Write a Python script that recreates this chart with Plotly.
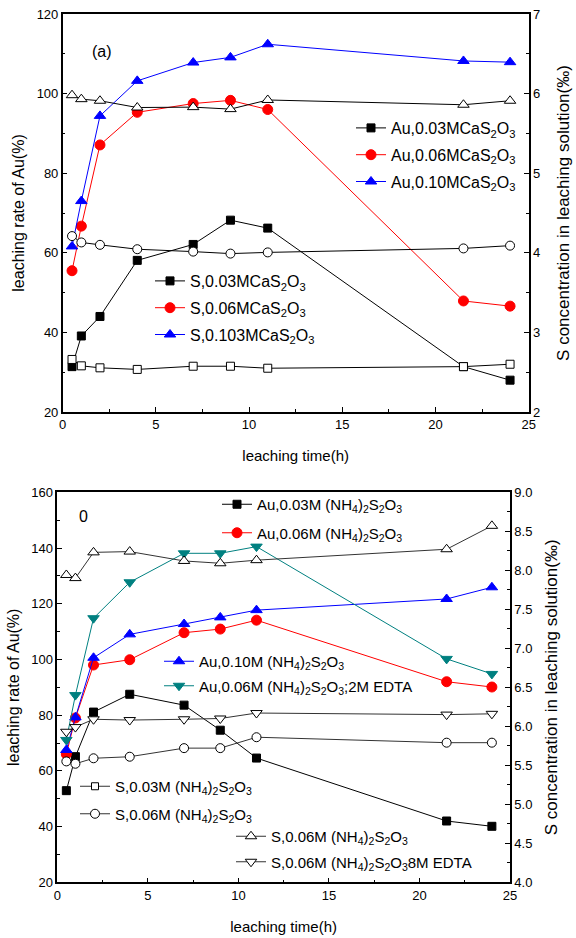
import plotly.graph_objects as go

# ---------------- data ----------------
time_h = [0.5, 1, 2, 4, 7, 9, 11, 21.5, 24]

# (a) calcium thiosulfate leaching: Au leaching rate (%)
au_ca_003 = [31.4, 39.1, 44.0, 58.1, 62.1, 68.2, 66.2, 31.4, 28.0]
au_ca_006 = [55.5, 66.7, 87.1, 95.3, 97.5, 98.3, 96.0, 47.9, 46.6]
au_ca_010 = [61.6, 73.0, 94.4, 103.2, 107.8, 109.1, 112.4, 108.2, 107.9]
# (a) S concentration in leaching solution (per mille)
s_ca_003 = [2.66, 2.58, 2.555, 2.535, 2.575, 2.575, 2.55, 2.57, 2.60]
s_ca_006 = [4.21, 4.13, 4.10, 4.045, 4.015, 3.99, 4.005, 4.055, 4.09]
s_ca_0103 = [5.98, 5.93, 5.91, 5.825, 5.83, 5.805, 5.92, 5.86, 5.91]

# (b) ammonium thiosulfate leaching: Au leaching rate (%)
au_nh_003 = [52.9, 65.1, 81.1, 87.5, 83.6, 74.6, 64.6, 42.0, 40.1]
au_nh_006 = [66.0, 79.0, 98.0, 99.9, 109.6, 110.9, 114.1, 92.0, 90.1]
au_nh_010 = [67.5, 79.2, 100.6, 109.0, 112.7, 115.1, 117.7, 121.7, 125.9]
au_nh_006_edta = [71.1, 87.2, 114.8, 127.7, 138.1, 138.1, 140.5, 100.2, 94.8]
# (b) S concentration in leaching solution (per mille)
s_nh_003 = []
s_nh_006 = [5.55, 5.52, 5.59, 5.61, 5.72, 5.72, 5.86, 5.79, 5.79]
s_nh_006_b = [7.94, 7.90, 8.23, 8.24, 8.12, 8.09, 8.13, 8.27, 8.57]
s_nh_006_edta = [5.93, 5.99, 6.09, 6.08, 6.09, 6.10, 6.17, 6.15, 6.16]

SUB = "S<sub>2</sub>O<sub>3</sub>"
NH = "(NH<sub>4</sub>)<sub>2</sub>" + SUB

BLACK, RED, BLUE, TEAL = "#000000", "#FF0000", "#0000FF", "#008080"
FONT = "Liberation Sans, Arial, sans-serif"

fig = go.Figure()
_count = [0]


def add(x, y, name, color, symbol, size, xa, ya, legend, hollow=False,
        showlegend=True, lcolor=None):
    _count[0] += 1
    fig.add_trace(go.Scatter(
        x=x, y=y, name=name, mode="lines+markers",
        xaxis=xa, yaxis=ya, legend=legend, showlegend=showlegend,
        legendgroup="g%d" % _count[0],
        line=dict(color=lcolor or color, width=1),
        marker=dict(symbol=symbol, size=size,
                    color="white" if hollow else color,
                    line=dict(color=color, width=1))))


# ---- panel (a) ----
add(time_h, au_ca_003, "Au,0.03MCa" + SUB, BLACK, "square", 8, "x", "y", "legend")
add(time_h, au_ca_006, "Au,0.06MCa" + SUB, RED, "circle", 10, "x", "y", "legend")
add(time_h, au_ca_010, "Au,0.10MCa" + SUB, BLUE, "triangle-up", 10, "x", "y", "legend")

add(time_h, s_ca_003, "", BLACK, "square", 8, "x", "y2", "legend2",
    hollow=True, showlegend=False)
add(time_h, s_ca_006, "", BLACK, "circle", 9, "x", "y2", "legend2",
    hollow=True, showlegend=False)
add(time_h, s_ca_0103, "", BLACK, "triangle-up", 10, "x", "y2", "legend2",
    hollow=True, showlegend=False)
# key entries for the S series of panel (a)
add([None], [None], "S,0.03MCa" + SUB, BLACK, "square", 8, "x", "y2", "legend2")
add([None], [None], "S,0.06MCa" + SUB, RED, "circle", 10, "x", "y2", "legend2")
add([None], [None], "S,0.103MCa" + SUB, BLUE, "triangle-up", 10, "x", "y2", "legend2")

# ---- panel (b) ----
add(time_h, au_nh_003, "Au,0.03M " + NH, BLACK, "square", 8, "x2", "y3", "legend3")
add(time_h, au_nh_006, "Au,0.06M " + NH, RED, "circle", 10, "x2", "y3", "legend3")
add(time_h, au_nh_010, "Au,0.10M " + NH, BLUE, "triangle-up", 10, "x2", "y3", "legend4")
add(time_h, au_nh_006_edta, "Au,0.06M " + NH + ";2M EDTA", TEAL, "triangle-down",
    10, "x2", "y3", "legend4")
add(time_h[:len(s_nh_003)] or [None], s_nh_003 or [None], "S,0.03M " + NH, BLACK,
    "square", 7, "x2", "y4", "legend5", hollow=True, lcolor="#333333")
add(time_h, s_nh_006, "S,0.06M " + NH, BLACK, "circle", 9, "x2", "y4", "legend5",
    hollow=True, lcolor="#333333")
add(time_h, s_nh_006_b, "S,0.06M " + NH, BLACK, "triangle-up", 10, "x2", "y4",
    "legend6", hollow=True, lcolor="#333333")
add(time_h, s_nh_006_edta, "S,0.06M " + NH + "8M EDTA", BLACK, "triangle-down", 10,
    "x2", "y4", "legend6", hollow=True, lcolor="#333333")

W, H = 576, 938


def px_x(v):
    return v / W


def px_y(v):
    return 1 - v / H


tick_font = dict(family=FONT, size=13, color="black")
title_font = dict(family=FONT, size=16, color="black")
right_title_font = dict(family=FONT, size=17, color="black")
xtitle_font = dict(family=FONT, size=15, color="black")
axis_common = dict(showline=True, linecolor="black", linewidth=1.5,
                   ticks="inside", tickwidth=1, tickcolor="black",
                   showgrid=False, zeroline=False, tickfont=tick_font,
                   automargin=False)

top_dom_x = [px_x(62.7), px_x(528.7)]
top_dom_y = [px_y(412), px_y(14)]
bot_dom_x = [px_x(57.3), px_x(510)]
bot_dom_y = [px_y(882.3), px_y(492.3)]

fig.update_layout(
    width=W, height=H, margin=dict(l=0, r=0, t=0, b=0, autoexpand=False),
    paper_bgcolor="white", plot_bgcolor="white",
    font=dict(family=FONT, color="black"),
    xaxis=dict(domain=top_dom_x, anchor="y", range=[0, 25], dtick=5, ticklen=5,
               minor=dict(dtick=2.5, ticks="inside", ticklen=3),
               mirror=True,
               title=dict(text="leaching time(h)", font=xtitle_font, standoff=19),
               **axis_common),
    yaxis=dict(domain=top_dom_y, anchor="x", range=[20, 120], dtick=20, ticklen=5,
               minor=dict(dtick=10, ticks="inside", ticklen=3),
               title=dict(text="leaching rate of Au(%)", font=title_font, standoff=8),
               **axis_common),
    yaxis2=dict(overlaying="y", anchor="x", side="right", range=[2, 7], dtick=1,
                ticklen=5,
                minor=dict(dtick=0.5, ticks="inside", ticklen=3),
                title=dict(text="S concentration in leaching solution(‰)",
                           font=right_title_font, standoff=18),
                **axis_common),
    xaxis3=dict(overlaying="x", anchor="y", side="top", range=[0, 25], dtick=1,
                ticklen=3, showticklabels=False, **axis_common),
    xaxis2=dict(domain=bot_dom_x, anchor="y3", range=[0, 25], dtick=5, ticklen=5,
                minor=dict(dtick=2.5, ticks="inside", ticklen=3),
                mirror=True,
                title=dict(text="leaching time(h)", font=xtitle_font, standoff=20),
                **axis_common),
    yaxis3=dict(domain=bot_dom_y, anchor="x2", range=[20, 160], dtick=20, ticklen=5,
                minor=dict(dtick=10, ticks="inside", ticklen=3),
                title=dict(text="leaching rate of Au(%)", font=title_font, standoff=8),
                **axis_common),
    yaxis4=dict(overlaying="y3", anchor="x2", side="right", range=[4, 9], dtick=0.5,
                ticklen=5, tickformat=".1f",
                minor=dict(dtick=0.25, ticks="inside", ticklen=3),
                title=dict(text="S concentration in leaching solution(‰)",
                           font=right_title_font, standoff=14),
                **axis_common),
    xaxis4=dict(overlaying="x2", anchor="y3", side="top", range=[0, 25], dtick=1,
                ticklen=3, showticklabels=False, **axis_common),
)

leg_common = dict(bgcolor="rgba(0,0,0,0)", borderwidth=0, xanchor="left",
                  yanchor="top", traceorder="grouped")
fig.update_layout(
    legend=dict(x=px_x(351), y=px_y(111), font=dict(family=FONT, size=16),
                tracegroupgap=3, **leg_common),
    legend2=dict(x=px_x(150), y=px_y(264), font=dict(family=FONT, size=16),
                 tracegroupgap=3, **leg_common),
    legend3=dict(x=px_x(217), y=px_y(488), font=dict(family=FONT, size=15),
                 tracegroupgap=6, **leg_common),
    legend4=dict(x=px_x(159), y=px_y(645), font=dict(family=FONT, size=15),
                 tracegroupgap=2, **leg_common),
    legend5=dict(x=px_x(75), y=px_y(770), font=dict(family=FONT, size=15),
                 tracegroupgap=5, **leg_common),
    legend6=dict(x=px_x(231), y=px_y(820), font=dict(family=FONT, size=15),
                 tracegroupgap=3, **leg_common),
)

fig.add_annotation(text="(a)", x=px_x(90), y=px_y(41), xref="paper", yref="paper",
                   showarrow=False, font=dict(family=FONT, size=16))
fig.add_annotation(text="0", x=px_x(77), y=px_y(516), xref="paper", yref="paper",
                   showarrow=False, font=dict(family=FONT, size=16))

fig.write_html("out.html")
